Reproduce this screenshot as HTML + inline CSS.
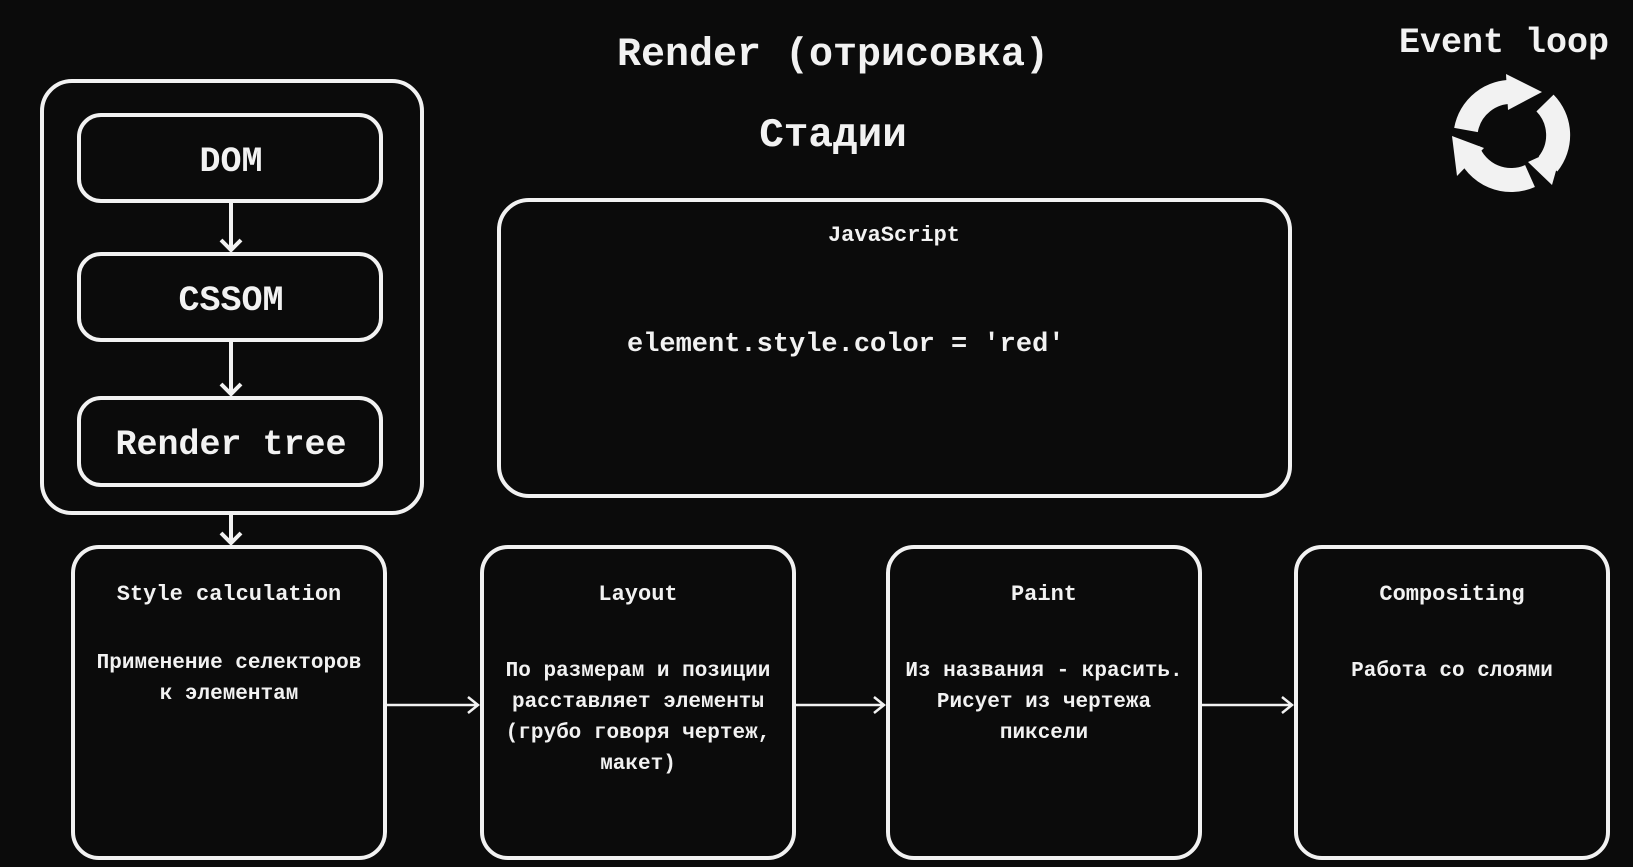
<!DOCTYPE html>
<html><head><meta charset="utf-8"><style>
html,body{margin:0;padding:0;background:#0b0b0b;}
svg{display:block}
text{font-family:"Liberation Mono","DejaVu Sans Mono",monospace;fill:#f2f2f2;font-weight:bold;text-anchor:middle}
</style></head><body>
<svg width="1633" height="867" viewBox="0 0 1633 867" xmlns="http://www.w3.org/2000/svg">
<rect width="1633" height="867" fill="#0b0b0b"/>
<g fill="none" stroke="#f2f2f2" stroke-width="4">
<rect x="42" y="81" width="380" height="432" rx="30"/>
<rect x="79" y="115" width="302" height="86" rx="22"/>
<rect x="79" y="254" width="302" height="86" rx="22"/>
<rect x="79" y="398" width="302" height="87" rx="22"/>
<rect x="499" y="200" width="791" height="296" rx="30"/>
<rect x="73" y="547" width="312" height="311" rx="26"/>
<rect x="482" y="547" width="312" height="311" rx="26"/>
<rect x="888" y="547" width="312" height="311" rx="26"/>
<rect x="1296" y="547" width="312" height="311" rx="26"/>
<path d="M231 203V250M221 240l10 10 10-10M231 342V394M221 384l10 10 10-10M231 515V543M221 533l10 10 10-10" stroke-width="4"/>
<path d="M387 705H478M468 697l10 8-10 8M796 705H884M874 697l10 8-10 8M1202 705H1292M1282 697l10 8-10 8" stroke-width="2.5"/>
</g>
<text x="833" y="65" font-size="40">Render (отрисовка)</text>
<text x="833" y="146" font-size="41">Стадии</text>
<text x="1504" y="52" font-size="35">Event loop</text>
<g fill="none" stroke="#f2f2f2" stroke-width="24">
<path d="M1466 130 A46 46 0 0 1 1514 92"/>
<path d="M1545 103 A46 46 0 0 1 1548 164"/>
<path d="M1530 176 A46 46 0 0 1 1468 150"/>
</g>
<g fill="#f2f2f2">
<polygon points="1506,74 1542,92 1508,110"/>
<polygon points="1563,146 1552,185 1528,162"/>
<polygon points="1457,176 1452,136 1484,148"/>
</g>
<text x="231" y="171" font-size="35">DOM</text>
<text x="231" y="310" font-size="35">CSSOM</text>
<text x="231" y="454" font-size="35">Render tree</text>
<text x="894" y="241" font-size="22" font-weight="normal">JavaScript</text>
<text x="627" y="351" font-size="27" style="text-anchor:start">element.style.color = 'red'</text>
<g font-size="22">
<text x="229" y="600">Style calculation</text>
<text x="638" y="600">Layout</text>
<text x="1044" y="600">Paint</text>
<text x="1452" y="600">Compositing</text>
</g>
<g font-size="21">
<text x="229" y="668">Применение селекторов</text>
<text x="229" y="699">к элементам</text>
<text x="638" y="676">По размерам и позиции</text>
<text x="638" y="707">расставляет элементы</text>
<text x="638" y="738">(грубо говоря чертеж,</text>
<text x="638" y="769">макет)</text>
<text x="1044" y="676">Из названия - красить.</text>
<text x="1044" y="707">Рисует из чертежа</text>
<text x="1044" y="738">пиксели</text>
<text x="1452" y="676">Работа со слоями</text>
</g>
</svg>
</body></html>
